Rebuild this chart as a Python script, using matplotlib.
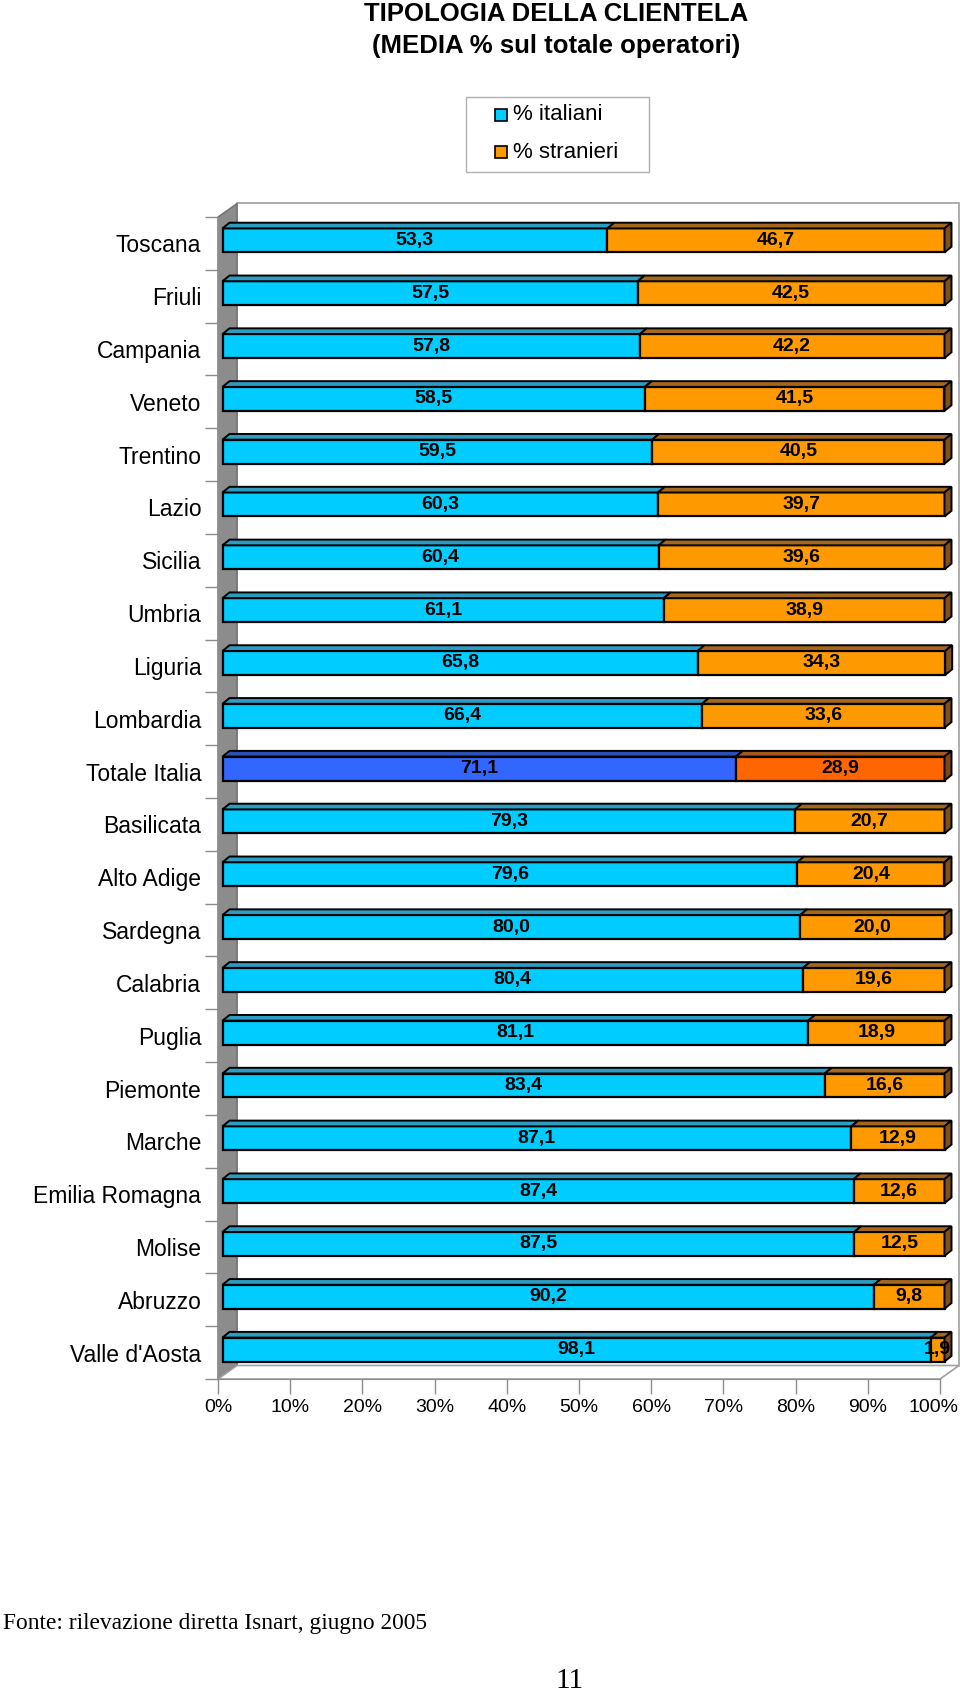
import numpy as np
import matplotlib
matplotlib.use("Agg")
import matplotlib.pyplot as plt
import matplotlib.transforms as mtransforms
from matplotlib.patches import Polygon, Rectangle

plt.rcParams['font.family'] = ['Liberation Sans', 'DejaVu Sans']

regions = ["Toscana", "Friuli", "Campania", "Veneto", "Trentino", "Lazio",
           "Sicilia", "Umbria", "Liguria", "Lombardia", "Totale Italia",
           "Basilicata", "Alto Adige", "Sardegna", "Calabria", "Puglia",
           "Piemonte", "Marche", "Emilia Romagna", "Molise", "Abruzzo",
           "Valle d'Aosta"]
italiani = [53.3, 57.5, 57.8, 58.5, 59.5, 60.3, 60.4, 61.1, 65.8, 66.4, 71.1,
            79.3, 79.6, 80.0, 80.4, 81.1, 83.4, 87.1, 87.4, 87.5, 90.2, 98.1]
stranieri = [46.7, 42.5, 42.2, 41.5, 40.5, 39.7, 39.6, 38.9, 34.3, 33.6, 28.9,
             20.7, 20.4, 20.0, 19.6, 18.9, 16.6, 12.9, 12.6, 12.5, 9.8, 1.9]
xticks = [0, 10, 20, 30, 40, 50, 60, 70, 80, 90, 100]

W, H = 960, 1694
fig = plt.figure(figsize=(W / 100, H / 100), dpi=100)

# front plane of the 3d box, in pixels
x0, x1, ytop, ybot = 218, 940, 217, 1379
ax = fig.add_axes([x0 / W, 1 - ybot / H, (x1 - x0) / W, (ybot - ytop) / H])
n = len(regions)
ax.set_xlim(0, 100)
ax.set_ylim(n - 0.5, -0.5)

pxx = (x1 - x0) / 100.0          # px per %
pxy = (ybot - ytop) / n          # px per category

# depth of the box, and where the bars sit inside it
DX, DY = 19 / pxx, -13.5 / pxy
ox, oy = 4.5 / pxx, -3.0 / pxy       # bar front offset
bdx, bdy = 7 / pxx, -5.7 / pxy       # bar depth
bh = 24 / pxy                        # bar front height

gray = "#8c8c8c"
# back wall
ax.add_patch(Rectangle((DX, -0.5 + DY), 100, n, facecolor="white",
                       edgecolor="#a0a0a0", lw=1.2, clip_on=False, zorder=0))
# left wall
ax.add_patch(Polygon([(0, -0.5), (DX, -0.5 + DY), (DX, n - 0.5 + DY), (0, n - 0.5)],
                     closed=True, facecolor=gray, edgecolor="#6e6e6e", lw=1,
                     clip_on=False, zorder=1))
# floor
ax.add_patch(Polygon([(0, n - 0.5), (100, n - 0.5), (100 + DX, n - 0.5 + DY), (DX, n - 0.5 + DY)],
                     closed=True, facecolor="white", edgecolor="#a0a0a0", lw=1.2,
                     clip_on=False, zorder=1))

cols = {"it": ("#00CCFF", "#2C9CC2", "#1F7FA0"),
        "st": ("#FF9900", "#A5661E", "#80501A")}
cols_tot = {"it": ("#3366FF", "#2C50B4", "#22409A"),
            "st": ("#FF6600", "#A5581E", "#80441A")}


def seg(yc, left, w, c, side):
    yt = yc - bh / 2
    yb = yc + bh / 2
    l = left + ox
    r = left + w + ox
    ax.barh(yc, w, left=l, height=bh, color=c[0], edgecolor="black", lw=1.6,
            zorder=3, clip_on=False)
    ax.add_patch(Polygon([(l, yt), (r, yt), (r + bdx, yt + bdy), (l + bdx, yt + bdy)],
                         closed=True, facecolor=c[1], edgecolor="black", lw=1.4,
                         clip_on=False, zorder=4))
    if side:
        ax.add_patch(Polygon([(r, yt), (r, yb), (r + bdx, yb + bdy), (r + bdx, yt + bdy)],
                             closed=True, facecolor=c[2], edgecolor="black", lw=1.4,
                             clip_on=False, zorder=4))


def lab(v):
    return ("%.1f" % v).replace(".", ",")


for i, name in enumerate(regions):
    cc = cols_tot if name == "Totale Italia" else cols
    yc = i + oy
    seg(yc, 0, italiani[i], cc["it"], False)
    seg(yc, italiani[i], stranieri[i], cc["st"], True)
    ax.text(italiani[i] / 2 + ox, yc, lab(italiani[i]), ha="center", va="center",
            fontsize=14, fontweight="bold", zorder=6)
    ax.text(italiani[i] + stranieri[i] / 2 + ox, yc, lab(stranieri[i]), ha="center",
            va="center", fontsize=14, fontweight="bold", zorder=6)

for s in ["top", "right"]:
    ax.spines[s].set_visible(False)
for s in ["left", "bottom"]:
    ax.spines[s].set_color("#8c8c8c")
    ax.spines[s].set_zorder(2)

ax.set_yticks(range(n))
ax.set_yticklabels(regions, fontsize=16.5)
ax.set_yticks(np.arange(n + 1) - 0.5, minor=True)
ax.tick_params(axis="y", which="major", length=0, pad=12)
ax.tick_params(axis="y", which="minor", length=9.5, color="#8c8c8c", width=1)
ax.set_xticks(xticks)
ax.set_xticklabels(["%d%%" % t for t in xticks], fontsize=14)
ax.tick_params(axis="x", length=10.5, color="#8c8c8c", width=1, pad=4)
# keep the last label inside the page
last = ax.get_xticklabels()[-1]
last.set_transform(last.get_transform() +
                   mtransforms.ScaledTranslation(-7 / 100, 0, fig.dpi_scale_trans))
ax.patch.set_alpha(0)

# title
fig.text(556 / W, 1 - 14 / H, "TIPOLOGIA DELLA CLIENTELA", ha="center", va="center",
         fontsize=18.5, fontweight="bold")
fig.text(556 / W, 1 - 46 / H, "(MEDIA % sul totale operatori)", ha="center", va="center",
         fontsize=18.5, fontweight="bold")

# legend
fig.patches.append(Rectangle((466 / W, 1 - 172 / H), 183 / W, 75 / H, transform=fig.transFigure,
                             facecolor="white", edgecolor="#b0b0b0", lw=1))
for k, (txt, c) in enumerate([("% italiani", "#00CCFF"), ("% stranieri", "#FF9900")]):
    yy = [115, 152][k]
    fig.patches.append(Rectangle((495 / W, 1 - (yy + 6) / H), 12 / W, 12 / H,
                                 transform=fig.transFigure, facecolor=c,
                                 edgecolor="black", lw=1.2))
    fig.text(513 / W, 1 - yy / H, txt, ha="left", va="center", fontsize=16)

# footer
fig.text(3 / W, 1 - 1623 / H, "Fonte: rilevazione diretta Isnart, giugno 2005",
         ha="left", va="center", fontsize=16.8, family=["Liberation Serif", "DejaVu Serif"])
fig.text(570 / W, 1 - 1681 / H, "11", ha="center", va="center", fontsize=21,
         family=["Liberation Serif", "DejaVu Serif"])

fig.savefig("out.png", dpi=100, facecolor="white")
